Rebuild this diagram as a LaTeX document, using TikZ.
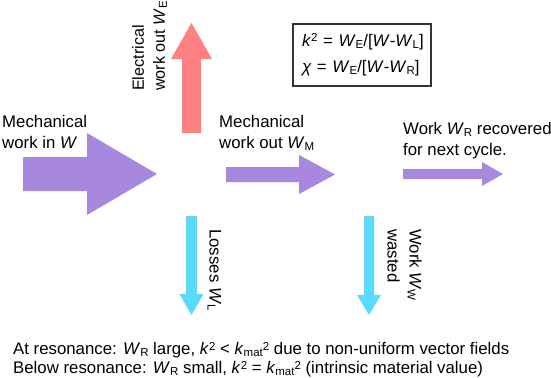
\documentclass[tikz,border=0pt]{standalone}
\usepackage{fontspec}
\setmainfont{Liberation Sans}
\definecolor{arrpurple}{HTML}{A887DE}
\definecolor{arrred}{HTML}{FF8080}
\definecolor{arrcyan}{HTML}{58DBFF}
\newcommand{\subx}[1]{\raisebox{-2bp}{\fontsize{11.5bp}{11.5bp}\selectfont #1}}
\newcommand{\supx}[1]{\raisebox{4.5bp}{\fontsize{11.5bp}{11.5bp}\selectfont #1}}
\begin{document}
\begin{tikzpicture}[x=1bp,y=-1bp,
  txt/.style={font=\fontsize{16.8bp}{21bp}\selectfont, inner sep=0pt, align=left, anchor=north west},
  purp/.style={fill=arrpurple},
  redf/.style={fill=arrred},
  cyanf/.style={fill=arrcyan}]
\useasboundingbox (0,0) rectangle (551,377);

% purple arrows
\fill[purp] (23,157) -- (87,157) -- (87,133) -- (157,174) -- (87,215) -- (87,191) -- (23,191) -- cycle;
\fill[purp] (226,167) -- (299,167) -- (299,155) -- (335,174.5) -- (299,194) -- (299,182) -- (226,182) -- cycle;
\fill[purp] (403,169) -- (482,169) -- (482,162) -- (503,174) -- (482,186) -- (482,179) -- (403,179) -- cycle;
% red arrow
\fill[redf] (182,133) -- (182,59) -- (171,59) -- (191.5,23) -- (212,59) -- (201,59) -- (201,133) -- cycle;
% cyan arrows
\fill[cyanf] (186,216) -- (197,216) -- (197,294) -- (203.5,294) -- (191.5,315) -- (179.5,294) -- (186,294) -- cycle;
\fill[cyanf] (364,216) -- (374,216) -- (374,295) -- (381,295) -- (369,315) -- (357,295) -- (364,295) -- cycle;

% texts
\node[txt] (min) at (2,115) {Mechanical\\work in \textit{W}};
\node[txt] (mout) at (219,115) {Mechanical\\work out \textit{W}\subx{M}};
\node[txt] (rec) at (403,122) {Work \textit{W}\subx{R} recovered\\for next cycle.};
\node[txt, rotate=90, font=\fontsize{16.2bp}{21bp}\selectfont] (elec) at (132,91) {Electrical\\work out \textit{W}\subx{E}};
\node[txt, rotate=-90] (loss) at (221.5,229) {Losses \textit{W}\subx{L}};
\node[txt, rotate=-90, font=\fontsize{16.8bp}{22bp}\selectfont] (waste) at (422,229) {Work \textit{W}\subx{W}\\wasted};

\node[draw=black!80, line width=1.1bp, minimum width=138bp, minimum height=62bp, text width=120bp, inner xsep=9bp, inner ysep=0pt, align=left, font=\fontsize{16.8bp}{26.5bp}\selectfont] (box) at (362,55)
  {\mbox{\textit{k}\supx{2} = \textit{W}\subx{E}/[\textit{W}-\textit{W}\subx{L}]}\\
   \mbox{\textit{χ} = \textit{W}\subx{E}/[\textit{W}-\textit{W}\subx{R}]}};

\node[txt, font=\fontsize{16.8bp}{19bp}\selectfont] (note) at (13,342)
  {At resonance: \textit{W}\subx{R} large, \textit{k}\supx{2} {<} \textit{k}\subx{mat}\supx{2} due to non-uniform vector fields\\
   Below resonance: \textit{W}\subx{R} small, \textit{k}\supx{2} = \textit{k}\subx{mat}\supx{2} (intrinsic material value)};
\end{tikzpicture}
\end{document}
